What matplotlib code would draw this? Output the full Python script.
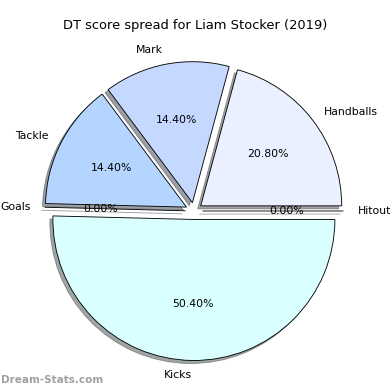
import matplotlib
matplotlib.use('Agg')
import matplotlib.pyplot as plt

# DT points per stat category
labels = ['Handballs', 'Mark', 'Tackle', 'Goals', 'Kicks', 'Hitout']
points = [52, 36, 36, 0, 126, 0]
colours = ['#eaf0ff', '#c5d8ff', '#b3d5ff', '#b0d0ff', '#d9ffff', '#e6eeff']
explode = [0.06] * len(labels)

fig = plt.figure(figsize=(5, 5), dpi=78)
ax = fig.add_axes([0, 0, 1, 1])

ax.pie(points, labels=labels, colors=colours, explode=explode,
       autopct='%1.2f%%', shadow=True, startangle=0,
       wedgeprops={'edgecolor': 'black', 'linewidth': 0.8})

# put the pie where the original sits in the frame
ax.set_xlim(-194 / 141, (390 - 194) / 141)
ax.set_ylim(-179 / 141, 211 / 141)
ax.set_aspect('equal')

fig.text(0.5, 1 - 25 / 390, 'DT score spread for Liam Stocker (2019)',
         ha='center', va='center', fontsize=12)
fig.text(1 / 390, 1 - 380 / 390, 'Dream-Stats.com', ha='left', va='center',
         fontsize=9.6, fontweight='bold', color='#a0a0a0')

fig.savefig('out.png', dpi=78)
